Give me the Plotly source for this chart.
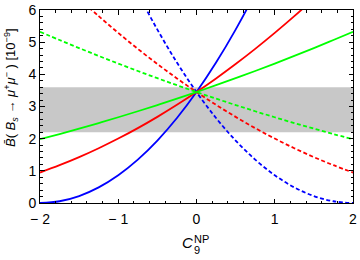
import plotly.graph_objects as go

c9 = [-2.0, -1.75, -1.5, -1.25, -1.0, -0.75, -0.5, -0.25, 0.0, 0.25, 0.5, 0.75, 1.0, 1.25, 1.5, 1.75, 2.0]

blue_solid = [0.0, 0.054, 0.216, 0.485, 0.863, 1.348, 1.941, 2.641, 3.45, 4.366, 5.391, 6.523, 7.76, None, None, None, None]
blue_dashed = [None, None, None, None, 7.76, 6.523, 5.391, 4.366, 3.45, 2.641, 1.941, 1.348, 0.863, 0.485, 0.216, 0.054, 0.0]

red_solid = [0.947, 1.175, 1.426, 1.703, 2.003, 2.328, 2.678, 3.052, 3.45, 3.873, 4.320, 4.792, 5.288, 5.808, 6.353, None, None]
red_dashed = [None, None, 6.353, 5.808, 5.288, 4.792, 4.320, 3.873, 3.45, 3.052, 2.678, 2.328, 2.003, 1.703, 1.426, 1.175, 0.947]

green_solid = [1.982, 2.143, 2.311, 2.485, 2.666, 2.852, 3.045, 3.244, 3.45, 3.662, 3.880, 4.104, 4.335, 4.572, 4.816, 5.066, 5.322]
green_dashed = [5.322, 5.066, 4.816, 4.572, 4.335, 4.104, 3.880, 3.662, 3.45, 3.244, 3.045, 2.852, 2.666, 2.485, 2.311, 2.143, 1.982]

band_low, band_high = 2.2, 3.6

x_ticks = [-2, -1, 0, 1, 2]
x_tick_labels = ["\u2212 2", "\u2212 1", "0", "1", "2"]
y_ticks = [0, 1, 2, 3, 4, 5, 6]

FONT = "Liberation Sans"

fig = go.Figure()

series = [
    (blue_solid, "#0000ff", "solid"),
    (blue_dashed, "#0000ff", "4px,2.5px"),
    (red_solid, "#ff0000", "solid"),
    (red_dashed, "#ff0000", "4px,2.5px"),
    (green_solid, "#00ff00", "solid"),
    (green_dashed, "#00ff00", "4px,2.5px"),
]
for ys, col, dash in series:
    fig.add_trace(go.Scatter(x=c9, y=ys, mode="lines",
                             line=dict(color=col, width=1.8, dash=dash, shape="spline"),
                             connectgaps=False, showlegend=False, hoverinfo="skip"))

fig.add_shape(type="rect", xref="x", yref="y", x0=-2, x1=2, y0=band_low, y1=band_high,
              fillcolor="#c8c8c8", line=dict(width=0), layer="below")

axis_common = dict(showgrid=False, zeroline=False, showline=True, linecolor="black",
                   linewidth=1, mirror="allticks", ticks="inside", ticklen=4.5,
                   tickcolor="black", automargin=False,
                   tickfont=dict(family=FONT, size=14, color="black"))

fig.update_xaxes(range=[-2, 2], tickvals=x_ticks, ticktext=x_tick_labels, ticklabelstandoff=3,
                 minor=dict(dtick=0.2, ticklen=2.5, ticks="inside", tickcolor="black", showgrid=False),
                 **axis_common)
fig.update_yaxes(range=[0, 6], tickvals=y_ticks,
                 minor=dict(dtick=0.2, ticklen=2.5, ticks="inside", tickcolor="black", showgrid=False),
                 **axis_common)

def px(xp):
    return (xp - 40) / 313.0

def py(yp):
    return (203 - yp) / 193.0

fig.add_annotation(text="<i>C</i>", xref="paper", yref="paper", x=px(187.5), y=py(242.5),
                   showarrow=False, xanchor="center", yanchor="middle",
                   font=dict(family=FONT, size=15, color="black"))
fig.add_annotation(text="9", xref="paper", yref="paper", x=px(196.5), y=py(249.5),
                   showarrow=False, xanchor="center", yanchor="middle",
                   font=dict(family=FONT, size=11, color="black"))
fig.add_annotation(text="NP", xref="paper", yref="paper", x=px(201), y=py(238.5),
                   showarrow=False, xanchor="center", yanchor="middle",
                   font=dict(family=FONT, size=11, color="black"))

fig.add_annotation(text="<i>B\u0304</i>( <i>B<sub>s</sub></i> \u2192 <i>\u03bc</i><sup>+</sup><i>\u03bc</i><sup>\u2212</sup> ) [10<sup>\u22129</sup>]",
                   xref="paper", yref="paper", x=px(11), y=py(88), textangle=-90,
                   showarrow=False, xanchor="center", yanchor="middle",
                   font=dict(family=FONT, size=13, color="black"))

fig.update_layout(width=360, height=260, margin=dict(l=40, r=7, t=10, b=57),
                  plot_bgcolor="white", paper_bgcolor="white", hovermode=False)

fig.write_html("out.html", config={"displayModeBar": False},
               post_script="document.body.style.margin='0';document.body.style.padding='0';")
